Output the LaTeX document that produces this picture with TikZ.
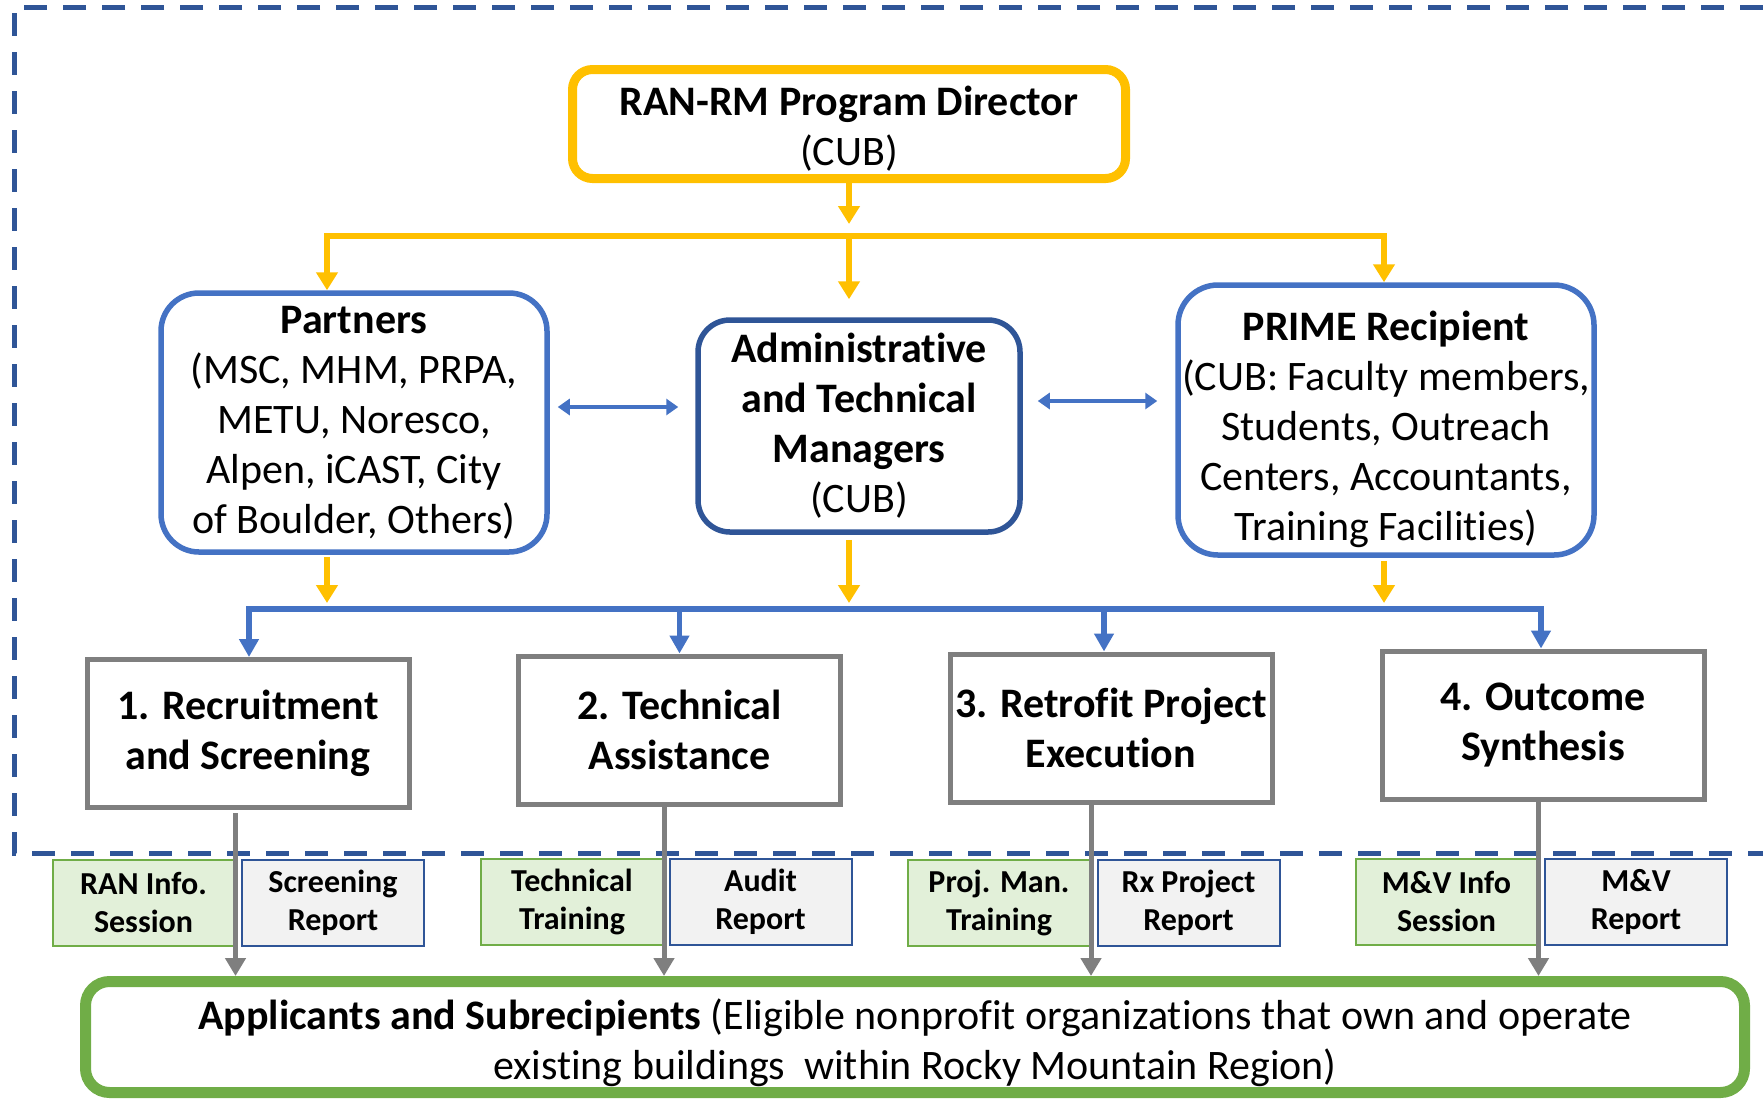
\documentclass[tikz,border=0pt]{standalone}
\usepackage{fontspec}
\setmainfont{Carlito}[Ligatures=NoCommon]
\usepackage{tikz}
\usetikzlibrary{arrows.meta}

\definecolor{orng}{HTML}{FFC000}
\definecolor{blu}{HTML}{4472C4}
\definecolor{dblu}{HTML}{2F5597}
\definecolor{gry}{HTML}{7F7F7F}
\definecolor{grn}{HTML}{70AD47}
\definecolor{grnfill}{HTML}{E2F0D9}
\definecolor{gryfill}{HTML}{F2F2F2}

\newcommand{\bigtxt}{\fontsize{42}{50}\selectfont}
\newcommand{\smalltxt}{\fontsize{32}{38}\selectfont\bfseries}

\tikzset{
    topbox/.style={draw=orng, line width=9pt, rounded corners=20pt, align=center, inner sep=1pt, font=\bigtxt},
    roundbox/.style={line width=5.5pt, align=center, inner sep=1pt, font=\bigtxt},
    stepbox/.style={draw=gry, line width=5pt, align=center, inner sep=1pt, font=\bigtxt\bfseries,
        minimum width=322pt, minimum height=148pt},
    trainbox/.style={draw=grn, fill=grnfill, line width=2pt, align=center, inner sep=1pt, font=\smalltxt,
        minimum width=182pt, minimum height=86pt},
    reportbox/.style={draw=dblu, fill=gryfill, line width=2pt, align=center, inner sep=1pt, font=\smalltxt,
        minimum width=182pt, minimum height=86pt},
    applbox/.style={draw=grn, line width=11pt, rounded corners=24pt, align=center, inner sep=1pt, font=\bigtxt,
        minimum width=1659pt, minimum height=111pt},
    orangearrow/.style={orng, line width=5.5pt, ->, >={Triangle[length=18pt,width=21pt]}},
    bluearrow/.style={blu, line width=5.5pt, ->, >={Triangle[length=18pt,width=19pt]}},
    grayarrow/.style={gry, line width=5pt, ->, >={Triangle[length=18pt,width=20pt]}},
    dblarrow/.style={blu, line width=4.5pt, <->, >={Triangle[length=12pt,width=16pt]}},
    frame/.style={dblu, line width=5pt, dash pattern=on 23pt off 16pt}
}

\begin{document}
\begin{tikzpicture}[x=1pt, y=-1pt]
    \useasboundingbox (0,0) rectangle (1763,1101);

    % dashed frame round the management part
    \draw[frame] (1763,7) -- (14,7) -- (14,853) -- (1763,853);

    \node[topbox, minimum width=553pt, minimum height=109pt] (dir) at (849,124) {\rule{0pt}{38pt}\textbf{RAN-RM Program Director}\\(CUB)};

    \node[roundbox, draw=blu, rounded corners=38pt, minimum width=386pt, minimum height=259pt] (partners) at (354,422.5)
        {\textbf{Partners}\\(MSC, MHM, PRPA,\\METU, Noresco,\\Alpen, iCAST, City\\of Boulder, Others)};
    \node[roundbox, draw=dblu, rounded corners=32pt, minimum width=322pt, minimum height=212pt] (admin) at (859,426)
        {\textbf{Administrative}\\\textbf{and Technical}\\\textbf{Managers}\\(CUB)};
    \node[roundbox, draw=blu, rounded corners=40pt, minimum width=416pt, minimum height=270pt] (prime) at (1386,420)
        {\rule{0pt}{48pt}\textbf{PRIME Recipient}\\(CUB: Faculty members,\\Students, Outreach\\Centers, Accountants,\\Training Facilities)};

    \node[stepbox] (s1) at (248,733.5) {1. Recruitment\\and Screening};
    \node[stepbox] (s2) at (679.5,730) {2. Technical\\Assistance};
    \node[stepbox] (s3) at (1111,728) {3. Retrofit Project\\Execution};
    \node[stepbox] (s4) at (1543,725) {4. Outcome\\Synthesis};

    \node[trainbox] (ran) at (143.5,902.5) {RAN Info.\\Session};
    \node[reportbox] (screen) at (333,902.5) {Screening\\Report};
    \node[trainbox] (ttrain) at (572,901.5) {Technical\\Training};
    \node[reportbox] (audit) at (760.5,901.5) {Audit\\Report};
    \node[trainbox] (pmt) at (999,903) {Proj. Man.\\Training};
    \node[reportbox] (rxrep) at (1188.5,903) {Rx Project\\Report};
    \node[trainbox] (mvinfo) at (1446.5,901.5) {M\&V Info\\Session};
    \node[reportbox] (mvrep) at (1636,902) {M\&V\\Report};

    \node[applbox] (appl) at (915,1037) {\rule{0pt}{43pt}\textbf{Applicants and Subrecipients} (Eligible nonprofit organizations that own and operate\\existing buildings~ within Rocky Mountain Region)};

    \coordinate (topL) at (327,236);
    \coordinate (topR) at (1384,236);
    \coordinate (midL) at (249,609);
    \coordinate (midR) at (1541,609);

    % director to the three units
    \draw[orangearrow, shorten >=12pt] (dir.south) -- (dir.south |- topL);
    \draw[orangearrow, <->] (topL |- partners.north) -- (topL) -- (topR) -- (topR |- prime.north);
    \draw[orangearrow, shorten >=18pt] (dir.south |- topL) -- (dir.south |- admin.north);

    \coordinate (pa) at ([yshift=15.5pt]partners.east);
    \coordinate (pb) at ([yshift=25pt]admin.east);
    \draw[dblarrow, shorten <=8pt, shorten >=17pt] (pa) -- (pa -| admin.west);
    \draw[dblarrow, shorten <=15pt, shorten >=18pt] (pb) -- (pb -| prime.west);

    % units to the tasks
    \draw[orangearrow, shorten <=2pt, shorten >=6pt] (topL |- partners.south) -- (topL |- midL);
    \draw[orangearrow, shorten <=5pt, shorten >=6pt] (dir.south |- admin.south) -- (dir.south |- midL);
    \draw[orangearrow, shorten <=3pt, shorten >=6pt] (topR |- prime.south) -- (topR |- midL);

    \draw[bluearrow, <->] (midL |- s1.north) -- (midL) -- (midR) -- (midR |- s4.north);
    \draw[bluearrow] (s2.north |- midL) -- (s2.north);
    \draw[bluearrow] ([xshift=-7pt]s3.north |- midL) -- ([xshift=-7pt]s3.north);

    % tasks to the applicants
    \draw[grayarrow, shorten <=3pt] (s1.south -| ran.east) -- (ran.east |- appl.north);
    \draw[grayarrow] (s2.south -| ttrain.east) -- (ttrain.east |- appl.north);
    \draw[grayarrow] (s3.south -| pmt.east) -- (pmt.east |- appl.north);
    \draw[grayarrow] (s4.south -| mvinfo.east) -- (mvinfo.east |- appl.north);
\end{tikzpicture}
\end{document}
